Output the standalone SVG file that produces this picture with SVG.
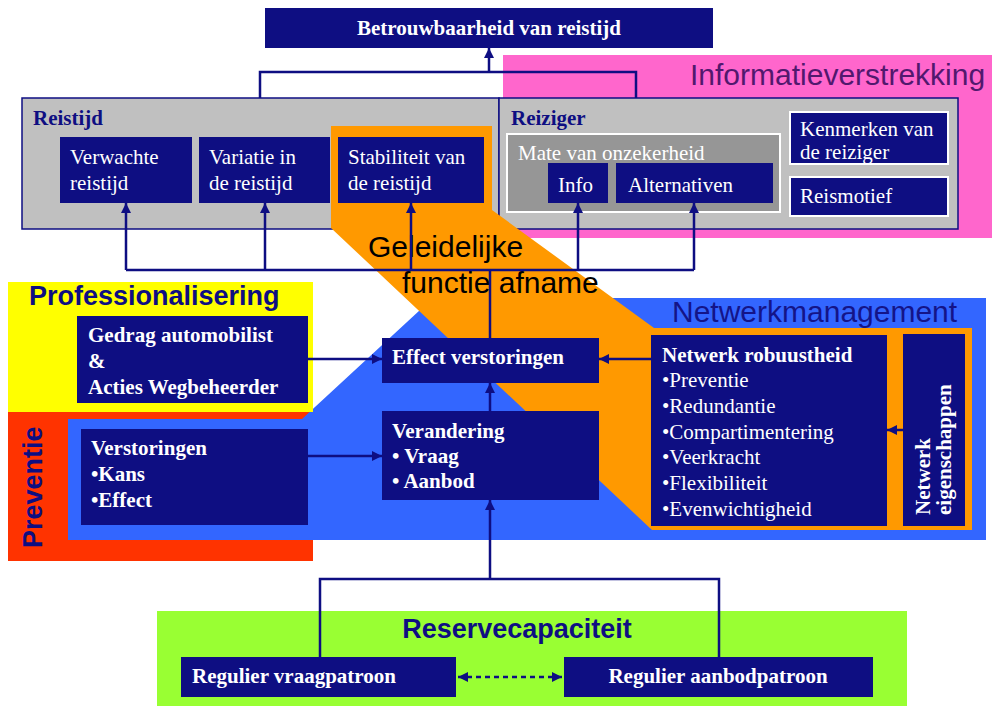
<svg xmlns="http://www.w3.org/2000/svg" width="992" height="706" viewBox="0 0 992 706">
<style>
.nb{fill:#0E0E82}
.nbw{fill:#0E0E82;stroke:#ffffff;stroke-width:2}
.t{font-family:"Liberation Serif","Times New Roman",serif;font-size:21px;fill:#ffffff}
.tb{font-family:"Liberation Serif","Times New Roman",serif;font-size:21px;font-weight:bold;fill:#ffffff}
.hd{font-family:"Liberation Serif","Times New Roman",serif;font-size:21px;font-weight:bold;fill:#0E0E82}
.big{font-family:"Liberation Sans",Arial,sans-serif;font-size:27px;font-weight:bold;fill:#0E0E82}
.lab{font-family:"Liberation Sans",Arial,sans-serif;font-size:30px}
.c{fill:none;stroke:#0E0E82;stroke-width:2.5}
</style>
<defs>
<marker id="ah" viewBox="0 0 10 10" refX="10" refY="5" markerWidth="10" markerHeight="10" markerUnits="userSpaceOnUse" orient="auto-start-reverse">
<path d="M0,0 L10,5 L0,10 z" fill="#0E0E82"/>
</marker>
</defs>

<g id="bg-informatie">
<rect x="503" y="55" width="489" height="183" fill="#FF66CC"/>
<text class="lab" x="690" y="85" fill="#52186E">Informatieverstrekking</text>
</g>

<g id="reistijd">
<rect x="22" y="98" width="477" height="131" fill="#C0C0C0" stroke="#0E0E82" stroke-width="1.5"/>
<text class="hd" x="33" y="125">Reistijd</text>
</g>
<g id="reiziger">
<rect x="499" y="98" width="459" height="131" fill="#C0C0C0" stroke="#0E0E82" stroke-width="1.5"/>
<text class="hd" x="511" y="125">Reiziger</text>
</g>

<g id="bg-preventie">
<rect x="8" y="412" width="305" height="149" fill="#FF3300"/>
</g>
<g id="bg-netwerkmanagement">
<polygon points="68,419 302,419 420,310 430,298 986,298 986,540 68,540" fill="#3366FF"/>
<text class="lab" x="672" y="322" fill="#141488">Netwerkmanagement</text>
</g>
<g id="bg-professionalisering">
<rect x="8" y="282" width="305" height="130" fill="#FFFF00"/>
<text class="big" x="29" y="305">Professionalisering</text>
</g>
<text class="big" transform="translate(42,548) rotate(-90)">Preventie</text>

<g id="bg-geleidelijke">
<polygon points="331,126 492,126 492,210 654,328 972,328 972,530 652,530 331,228" fill="#FF9900"/>
<text class="lab" x="368" y="257" fill="#000000">Geleidelijke</text>
<text class="lab" x="402" y="293" fill="#000000">functie afname</text>
</g>

<g id="bg-reservecapaciteit">
<rect x="157" y="611" width="750" height="95" fill="#99FF33"/>
<text class="big" x="517" y="638" text-anchor="middle">Reservecapaciteit</text>
</g>

<g id="betrouwbaarheid">
<rect class="nb" x="265" y="8" width="448" height="40"/>
<text class="tb" x="489" y="35" text-anchor="middle">Betrouwbaarheid van reistijd</text>
</g>

<g id="verwachte">
<rect class="nb" x="60" y="137" width="132" height="66"/>
<text class="t" x="70" y="164">Verwachte</text>
<text class="t" x="70" y="190">reistijd</text>
</g>
<g id="variatie">
<rect class="nb" x="199" y="137" width="131" height="66"/>
<text class="t" x="209" y="164">Variatie in</text>
<text class="t" x="209" y="190">de reistijd</text>
</g>
<g id="stabiliteit">
<rect class="nb" x="338" y="137" width="146" height="66"/>
<text class="t" x="348" y="164">Stabiliteit van</text>
<text class="t" x="348" y="190">de reistijd</text>
</g>

<g id="mate">
<rect x="507" y="134" width="273" height="78" fill="#969696" stroke="#ffffff" stroke-width="2"/>
<text class="t" x="518" y="160" fill="#f4f4f4">Mate van onzekerheid</text>
</g>
<g id="info">
<rect class="nb" x="548" y="163" width="60" height="40"/>
<text class="t" x="558" y="192">Info</text>
</g>
<g id="alternativen">
<rect class="nb" x="616" y="163" width="157" height="40"/>
<text class="t" x="628" y="192">Alternativen</text>
</g>
<g id="kenmerken">
<rect class="nbw" x="790" y="112" width="158" height="52"/>
<text class="t" x="800" y="136">Kenmerken van</text>
<text class="t" x="800" y="159">de reiziger</text>
</g>
<g id="reismotief">
<rect class="nbw" x="790" y="177" width="158" height="39"/>
<text class="t" x="800" y="203">Reismotief</text>
</g>

<g id="gedrag">
<rect class="nb" x="77" y="316" width="231" height="87"/>
<text class="tb" x="88" y="342">Gedrag automobilist</text>
<text class="tb" x="88" y="368">&amp;</text>
<text class="tb" x="88" y="394">Acties Wegbeheerder</text>
</g>
<g id="verstoringen">
<rect class="nb" x="81" y="429" width="227" height="96"/>
<text class="tb" x="91" y="455">Verstoringen</text>
<text class="tb" x="91" y="481">•Kans</text>
<text class="tb" x="91" y="507">•Effect</text>
</g>
<g id="effect">
<rect class="nb" x="382" y="338" width="217" height="45"/>
<text class="tb" x="392" y="364">Effect verstoringen</text>
</g>
<g id="verandering">
<rect class="nb" x="382" y="411" width="217" height="89"/>
<text class="tb" x="392" y="438">Verandering</text>
<text class="tb" x="392" y="463">• Vraag</text>
<text class="tb" x="392" y="488">• Aanbod</text>
</g>
<g id="robuustheid">
<rect class="nb" x="651" y="335" width="236" height="191"/>
<text class="tb" x="662" y="362">Netwerk robuustheid</text>
<text class="t" x="662" y="387">•Preventie</text>
<text class="t" x="662" y="413">•Redundantie</text>
<text class="t" x="662" y="439">•Compartimentering</text>
<text class="t" x="662" y="464">•Veerkracht</text>
<text class="t" x="662" y="490">•Flexibiliteit</text>
<text class="t" x="662" y="516">•Evenwichtigheid</text>
</g>
<g id="eigenschappen">
<rect class="nb" x="903" y="334" width="62" height="192"/>
<text class="tb" transform="translate(930,515) rotate(-90)">Netwerk</text>
<text class="tb" transform="translate(951,515) rotate(-90)">eigenschappen</text>
</g>
<g id="vraagpatroon">
<rect class="nb" x="181" y="657" width="275" height="40"/>
<text class="tb" x="192" y="683">Regulier vraagpatroon</text>
</g>
<g id="aanbodpatroon">
<rect class="nb" x="564" y="657" width="309" height="40"/>
<text class="tb" x="718" y="683" text-anchor="middle">Regulier aanbodpatroon</text>
</g>

<g id="connectors">
<path class="c" d="M260,98 V72 H636 V98"/>
<path class="c" d="M489,72 V48" marker-end="url(#ah)"/>
<path class="c" d="M126,270 H694"/>
<path class="c" d="M126,270 V203" marker-end="url(#ah)"/>
<path class="c" d="M265,270 V203" marker-end="url(#ah)"/>
<path class="c" d="M411,270 V203" marker-end="url(#ah)"/>
<path class="c" d="M578,270 V203" marker-end="url(#ah)"/>
<path class="c" d="M694,270 V203" marker-end="url(#ah)"/>
<path class="c" d="M490,338 V270"/>
<path class="c" d="M490,411 V383" marker-end="url(#ah)"/>
<path class="c" d="M320,657 V579 H719 V657"/>
<path class="c" d="M490,579 V500" marker-end="url(#ah)"/>
<path class="c" d="M308,359 H382" marker-end="url(#ah)"/>
<path class="c" d="M308,456 H382" marker-end="url(#ah)"/>
<path class="c" d="M651,359 H599" marker-end="url(#ah)"/>
<path class="c" d="M903,430 H887" marker-end="url(#ah)"/>
<path class="c" d="M458,677 H562" stroke-dasharray="5,4" marker-start="url(#ah)" marker-end="url(#ah)"/>
</g>
</svg>
